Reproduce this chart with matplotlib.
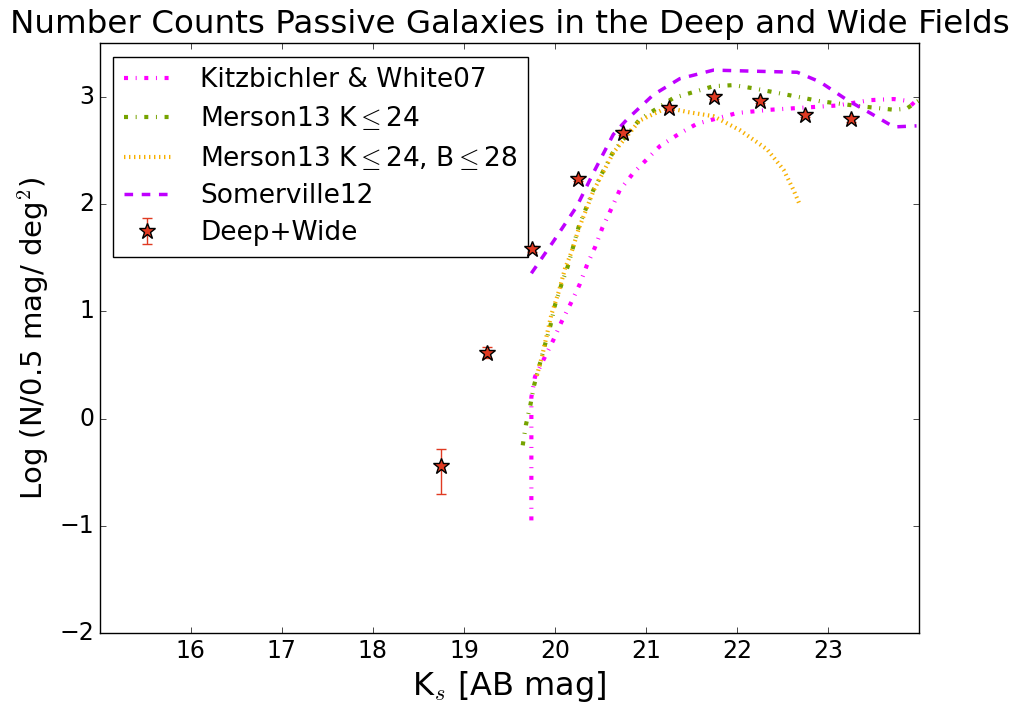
"""
Number counts of passive galaxies, Deep+Wide fields vs. model predictions.
"""

import matplotlib

matplotlib.use("Agg")
import matplotlib.pyplot as plt  # noqa: E402

# observed counts
mag_obs = [18.75, 19.25, 19.75, 20.25, 20.75, 21.25, 21.75, 22.25, 22.75, 23.25]
logn_obs = [-0.445, 0.616, 1.582, 2.234, 2.667, 2.895, 3.0, 2.96, 2.83, 2.79]
err_lo = [0.26, 0.05, 0.03, 0.02, 0.02, 0.02, 0.02, 0.02, 0.02, 0.02]
err_hi = [0.16, 0.05, 0.03, 0.02, 0.02, 0.02, 0.02, 0.02, 0.02, 0.02]

# Kitzbichler & White 07
kw_mag = [19.74, 19.74, 19.74, 19.78, 19.88, 19.98, 20.07, 20.17, 20.27, 20.35,
          20.44, 20.52, 20.62, 20.71, 20.86, 21.15, 21.37, 21.56, 21.78, 22.0,
          22.36, 22.73, 23.10, 23.46, 23.72, 23.90, 24.0]
kw_logn = [-0.95, -0.4, 0.2, 0.39, 0.56, 0.73, 0.90, 1.07, 1.25, 1.43,
           1.60, 1.78, 1.96, 2.13, 2.29, 2.54, 2.66, 2.75, 2.80, 2.85,
           2.88, 2.90, 2.92, 2.97, 2.98, 2.96, 2.87]

# Merson13 K<=24
m24_mag = [19.645, 19.68, 19.73, 19.77, 19.83, 19.89, 19.95, 20.0, 20.07, 20.14,
           20.26, 20.42, 20.64, 20.93, 21.30, 21.74, 21.96, 22.18, 22.55, 22.91,
           23.28, 23.72, 23.86, 24.0]
m24_logn = [-0.25, -0.06, 0.13, 0.31, 0.50, 0.69, 0.87, 1.06, 1.25, 1.42,
            1.79, 2.13, 2.49, 2.79, 2.99, 3.10, 3.11, 3.08, 3.02, 2.96,
            2.92, 2.88, 2.89, 2.97]

# Merson13 K<=24, B<=28
m24b_mag = [19.80, 19.86, 19.91, 19.96, 20.04, 20.11, 20.18, 20.26, 20.42, 20.64,
            20.93, 21.23, 21.45, 21.74, 22.03, 22.33, 22.51, 22.62, 22.69]
m24b_logn = [0.40, 0.59, 0.78, 0.97, 1.18, 1.40, 1.55, 1.77, 2.12, 2.48,
             2.78, 2.90, 2.86, 2.82, 2.69, 2.51, 2.32, 2.13, 1.99]

# Somerville12
s12_mag = [19.74, 19.98, 20.24, 20.42, 20.64, 20.79, 21.08, 21.37, 21.74, 22.18,
           22.66, 22.91, 23.21, 23.46, 23.72, 23.97]
s12_logn = [1.355, 1.65, 1.98, 2.29, 2.65, 2.79, 3.02, 3.17, 3.25, 3.24,
            3.23, 3.14, 2.97, 2.85, 2.72, 2.73]

xticks = [16, 17, 18, 19, 20, 21, 22, 23]
yticks = [-2, -1, 0, 1, 2, 3]


def main():
    plt.style.use("classic")
    fig = plt.figure(figsize=(10.18, 7.10), dpi=100, facecolor="white")
    ax = fig.add_axes([0.098, 0.1085, 0.805, 0.8305])
    ax.set_facecolor("white")

    # dash patterns in points (classic style does not scale them by lw)
    dashdot = (0, (2.9, 5.5, 0.7, 5.5))
    ax.plot(kw_mag, kw_logn, color="#FF00FF", lw=3, linestyle=dashdot,
            label="Kitzbichler & White07")
    ax.plot(m24_mag, m24_logn, color="#76A300", lw=3, linestyle=dashdot,
            label=r"Merson13 K$\leq$24")
    ax.plot(m24b_mag, m24b_logn, color="#F7B000", lw=3,
            linestyle=(0, (1.0, 2.6)),
            label=r"Merson13 K$\leq$24, B$\leq$28")
    ax.plot(s12_mag, s12_logn, color="#BF00FF", lw=2.5,
            linestyle=(0, (6.2, 6.2)), label="Somerville12")
    ax.errorbar(mag_obs, logn_obs, yerr=[err_lo, err_hi], fmt="*",
                color="#E03A22", ecolor="#E03A22", mec="black", mew=1,
                ms=12, capsize=3.5, elinewidth=1, label="Deep+Wide",
                zorder=6)

    ax.set_xlim(15, 24)
    ax.set_ylim(-2, 3.5)
    ax.set_xticks(xticks)
    ax.set_yticks(yticks)
    ax.tick_params(labelsize=17)
    ax.set_xlabel(r"K$_s$ [AB mag]", fontsize=23)
    ax.set_ylabel(r"Log (N/0.5 mag/ deg$^2$)", fontsize=21, labelpad=6)
    ax.set_title("Number Counts Passive Galaxies in the Deep and Wide Fields",
                 fontsize=23.4, y=1.005)
    ax.legend(loc="upper left", fontsize=19, numpoints=1, handlelength=1.8,
              handletextpad=1.1, labelspacing=0.43, borderaxespad=0.5)

    fig.savefig("out.png", dpi=100, facecolor="white")
    plt.close(fig)


if __name__ == "__main__":
    main()
